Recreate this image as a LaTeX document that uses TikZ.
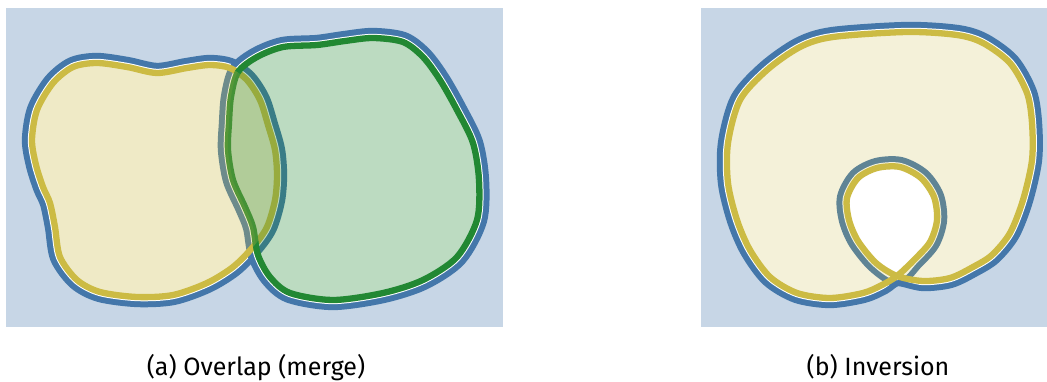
\documentclass[tikz,border=0pt]{standalone}
\usepackage{fontspec}
\setmainfont{Fira Sans}
\definecolor{tolblue}{HTML}{4477AA}
\definecolor{tolgreen}{HTML}{228833}
\definecolor{tolyellow}{HTML}{CCBB44}

% the blobs, in pixel coordinates (y downwards)
\newcommand{\blobA}{plot[smooth cycle] coordinates {(32,140) (37,110) (53,83) (73,67) (97,63) (127,67) (157,73) (187,68) (210,65) (230,68) (247,80) (260,100) (268,125) (275,150) (277,175) (275,200) (267,227) (253,247) (233,267) (207,283) (173,295) (137,297) (100,292) (77,280) (60,257) (55,227) (50,203) (43,187) (36,165)}}
\newcommand{\blobB}{plot[smooth cycle] coordinates {(238,72) (257,57) (283,47) (317,45) (345,41) (373,38) (403,42) (423,57) (440,80) (457,110) (473,143) (479,180) (477,220) (457,257) (423,280) (383,293) (333,300) (290,293) (270,277) (258,255) (253,227) (245,207) (233,180) (228,150) (229,123) (231,97)}}
\newcommand{\blobOuter}{plot[smooth cycle] coordinates {(728,143) (728,183) (737,220) (750,250) (770,277) (797,293) (830,298) (863,293) (882,285) (897,276) (923,281) (950,278) (973,267) (992,255) (1010,233) (1023,200) (1032,160) (1032,123) (1027,93) (1010,63) (983,43) (957,35) (907,32) (833,37) (800,47) (767,70) (740,100)}}
\newcommand{\blobLoop}{plot[smooth cycle] coordinates {(897,276) (914,260) (930,242) (937,220) (934,197) (921,178) (900,167) (877,168) (858,178) (847,198) (849,220) (858,241) (876,263)}}
\newcommand{\blobC}{plot[smooth cycle] coordinates {(728,143) (728,183) (737,220) (750,250) (770,277) (797,293) (830,298) (863,293) (882,285) (897,276) (914,260) (930,242) (937,220) (934,197) (921,178) (900,167) (877,168) (858,178) (847,198) (849,220) (858,241) (876,263) (897,276) (923,281) (950,278) (973,267) (992,255) (1010,233) (1023,200) (1032,160) (1032,123) (1027,93) (1010,63) (983,43) (957,35) (907,32) (833,37) (800,47) (767,70) (740,100)}}

\begin{document}
\begin{tikzpicture}[x=1pt, y=-1pt, line join=round]
\tikzset{
    panel/.style={fill=tolblue!30},
    outline/.style={draw=tolblue, line width=20.3pt},
    whitegap/.style={draw=white, line width=8.3pt},
    rim/.style={line width=6.3pt},
    caption/.style={font=\fontsize{25}{30}\selectfont, anchor=base, inner sep=0pt}
}
\useasboundingbox (0,0) rectangle (1047,382);

% (a) overlap
\fill[panel] (6,8) rectangle (503,327);
\fill[white] \blobA;
\fill[white] \blobB;
\begin{scope}[even odd rule]
\clip (0,0) rectangle (1047,382) \blobA;
\draw[outline] \blobA;
\draw[whitegap] \blobA;
\end{scope}
\begin{scope}[even odd rule]
\clip (0,0) rectangle (1047,382) \blobB;
\draw[outline] \blobB;
\draw[whitegap] \blobB;
\end{scope}
\draw[rim, tolyellow] \blobA;
\draw[rim, tolgreen] \blobB;
\fill[tolyellow, fill opacity=0.3] \blobA;
\fill[tolgreen, fill opacity=0.3] \blobB;

% (b) inversion
\fill[panel] (701,8) rectangle (1047,327);
\fill[white] \blobOuter;
\begin{scope}[even odd rule]
\clip (0,0) rectangle (1047,382) \blobOuter;
\draw[outline] \blobOuter;
\draw[whitegap] \blobOuter;
\end{scope}
\begin{scope}[even odd rule]
\clip (0,0) rectangle (1047,382) \blobLoop;
\draw[outline] \blobLoop;
\draw[whitegap] \blobLoop;
\end{scope}
\draw[rim, tolyellow] \blobC;
\fill[tolyellow, fill opacity=0.2, even odd rule] \blobC;

\node[caption] (capA) at (256,375) {(a) Overlap (merge)};
\node[caption] (capB) at (878,375) {(b) Inversion};
\end{tikzpicture}
\end{document}
